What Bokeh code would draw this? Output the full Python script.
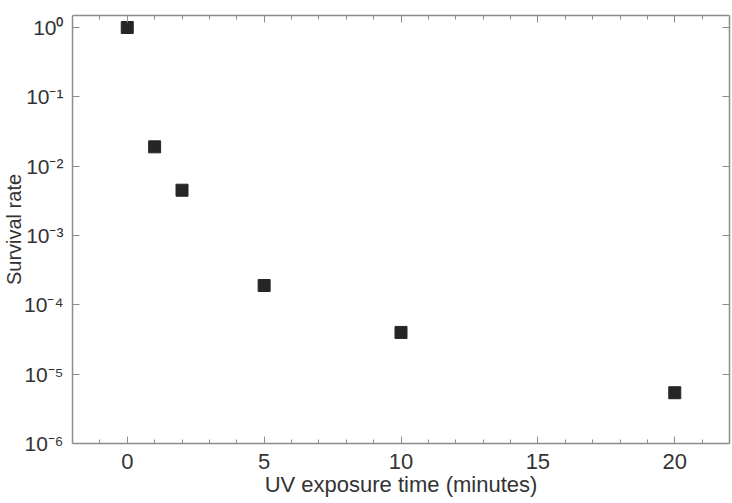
from bokeh.plotting import figure
from bokeh.models import FixedTicker, LinearAxis, LogAxis, Range1d
from bokeh.embed import file_html
from bokeh.resources import INLINE

# data
exposure_minutes = [0, 1, 2, 5, 10, 20]
survival_rate = [1.0, 0.019, 0.0045, 1.9e-4, 4.0e-5, 5.4e-6]

x_ticks = [0, 5, 10, 15, 20]
x_minor = [-1, 1, 2, 3, 4, 6, 7, 8, 9, 11, 12, 13, 14, 16, 17, 18, 19, 21]
y_ticks = [1e-6, 1e-5, 1e-4, 1e-3, 1e-2, 1e-1, 1e0]
y_tick_labels = ["10⁻⁶", "10⁻⁵", "10⁻⁴", "10⁻³", "10⁻²", "10⁻¹", "10⁰"]

FONT = "Liberation Sans"
AX = "#8c8c8c"
TXT = "#333333"

p = figure(width=732, height=503, output_backend="svg", toolbar_location=None,
           y_axis_type="log", x_range=Range1d(-2, 22), y_range=Range1d(1e-6, 1.49),
           min_border_left=72, min_border_right=3, min_border_top=15, min_border_bottom=60)
p.background_fill_color = "white"
p.border_fill_color = "white"
p.outline_line_color = None
p.xgrid.visible = False
p.ygrid.visible = False

def style(ax, labels=True):
    ax.axis_line_color = AX
    ax.axis_line_width = 1.5
    ax.major_tick_line_color = AX
    ax.minor_tick_line_color = AX
    ax.major_tick_in = 7
    ax.major_tick_out = 0
    ax.minor_tick_in = 4
    ax.minor_tick_out = 0
    ax.major_label_text_font = FONT
    ax.major_label_text_color = TXT
    ax.major_label_text_font_size = "22px" if labels else "0px"
    ax.axis_label_text_font = FONT
    ax.axis_label_text_color = TXT
    ax.axis_label_text_font_size = "22px"
    ax.axis_label_text_font_style = "normal"

xa = p.xaxis[0]
xa.ticker = FixedTicker(ticks=x_ticks, minor_ticks=x_minor)
style(xa)
xa.axis_label = "UV exposure time (minutes)"
xa.major_label_standoff = 10
xa.axis_label_standoff = 0

ya = p.yaxis[0]
ya.ticker = FixedTicker(ticks=y_ticks, minor_ticks=[])
ya.major_label_overrides = {t: l for t, l in zip(y_ticks, y_tick_labels)}
style(ya)
ya.major_label_text_font_size = "21px"
ya.axis_label = "Survival rate"
ya.axis_label_text_font_size = "20px"
ya.major_label_standoff = 9
ya.axis_label_standoff = -4

top = LinearAxis(ticker=FixedTicker(ticks=x_ticks, minor_ticks=x_minor))
style(top, labels=False)
top.major_label_overrides = {t: "" for t in x_ticks}
p.add_layout(top, "above")

right = LogAxis(ticker=FixedTicker(ticks=y_ticks, minor_ticks=[]))
style(right, labels=False)
right.major_label_overrides = {t: "" for t in y_ticks}
p.add_layout(right, "right")

p.scatter(exposure_minutes, survival_rate, marker="square", size=12,
          fill_color="#262626", line_color="#262626")

open("out.html", "w").write(file_html(p, INLINE))
